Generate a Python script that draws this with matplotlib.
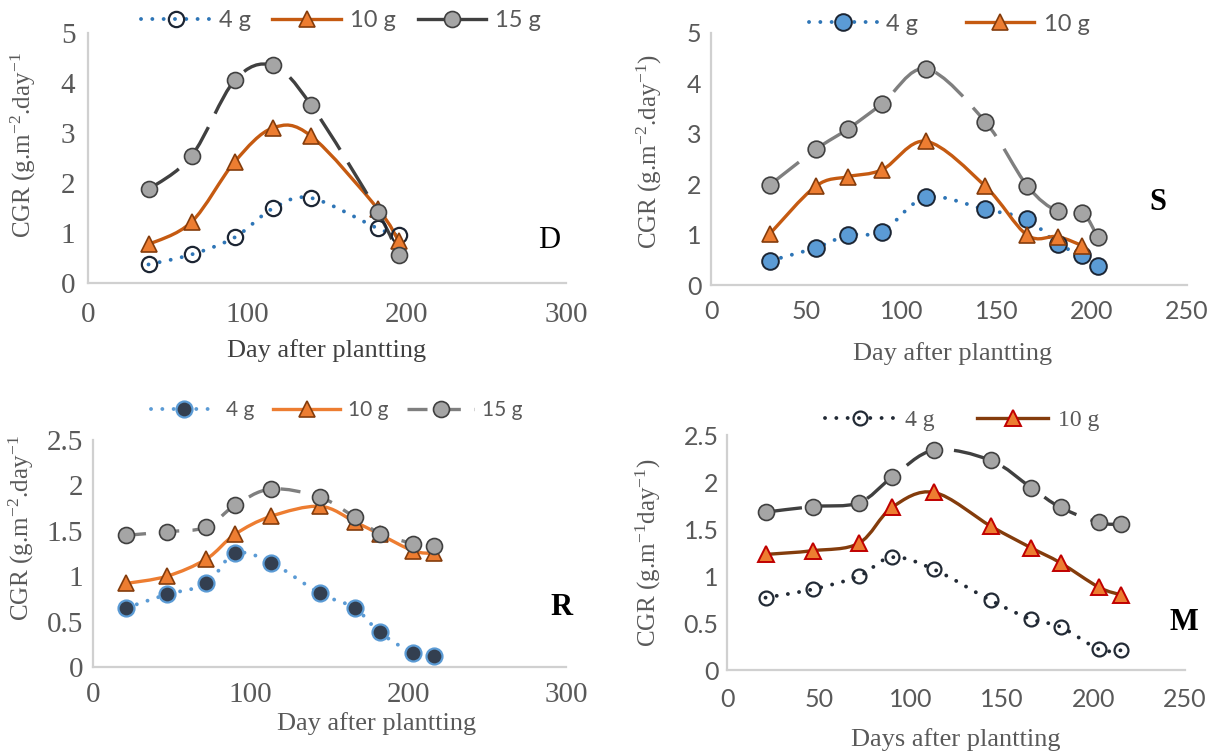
import matplotlib
matplotlib.use("Agg")
import matplotlib.pyplot as plt
import numpy as np
from matplotlib.path import Path
from matplotlib.patches import PathPatch
from matplotlib.lines import Line2D
from matplotlib.ticker import FuncFormatter, MultipleLocator

plt.rcParams['mathtext.fontset'] = 'custom'
plt.rcParams['mathtext.rm'] = 'Liberation Serif'
plt.rcParams['mathtext.it'] = 'Liberation Serif:italic'

# ---------------- data ----------------
D_days = [38, 65, 92, 116, 140, 182, 195]
D_4g = [0.37, 0.57, 0.91, 1.49, 1.70, 1.09, 0.95]
D_10g = [0.77, 1.22, 2.42, 3.10, 2.94, 1.48, 0.84]
D_15g = [1.87, 2.54, 4.05, 4.35, 3.56, 1.41, 0.55]

S_days = [31, 55, 72, 90, 113, 144, 166, 182, 195, 203]
S_4g = [0.48, 0.74, 0.99, 1.06, 1.74, 1.50, 1.30, 0.82, 0.59, 0.38]
S_days_10g = [31, 55, 72, 90, 113, 144, 166, 182, 195]
S_10g = [1.02, 1.96, 2.15, 2.29, 2.85, 1.96, 0.99, 0.96, 0.78]
S_15g = [1.99, 2.69, 3.10, 3.60, 4.29, 3.24, 1.97, 1.46, 1.43, 0.96]

R_days = [21, 47, 72, 90, 113, 144, 166, 182, 203, 216]
R_4g = [0.65, 0.80, 0.92, 1.25, 1.15, 0.81, 0.65, 0.38, 0.155, 0.12]
R_10g = [0.92, 1.00, 1.19, 1.46, 1.66, 1.77, 1.60, 1.46, 1.28, 1.25]
R_15g = [1.45, 1.49, 1.54, 1.78, 1.96, 1.87, 1.65, 1.47, 1.36, 1.33]

M_days = [21, 47, 72, 90, 113, 144, 166, 182, 203, 215]
M_4g = [0.77, 0.86, 1.00, 1.20, 1.07, 0.74, 0.54, 0.46, 0.22, 0.21]
M_10g = [1.23, 1.27, 1.35, 1.73, 1.89, 1.53, 1.30, 1.14, 0.88, 0.80]
M_15g = [1.68, 1.74, 1.78, 2.05, 2.34, 2.23, 1.94, 1.73, 1.57, 1.55]

labels = ['4 g', '10 g', '15 g']

# ---------------- helpers ----------------
SERIF = 'Liberation Serif'
SANS = 'Lato'
GRAY = '#595959'
DOT = (0, (0.01, 2.9))
LONGDASH = (0, (11, 4.5))
DASH = (0, (6, 4))


def smooth_path(x, y):
    pts = np.column_stack([x, y]).astype(float)
    n = len(pts)
    verts = [pts[0]]
    codes = [Path.MOVETO]
    for i in range(n - 1):
        p0 = pts[i - 1] if i > 0 else pts[i]
        p1 = pts[i]
        p2 = pts[i + 1]
        p3 = pts[i + 2] if i + 2 < n else pts[i + 1]
        verts += [p1 + (p2 - p0) / 6.0, p2 - (p3 - p1) / 6.0, p2]
        codes += [Path.CURVE4] * 3
    return Path(verts, codes)


def draw_series(ax, x, y, s, z):
    cap = 'round' if s['ls'] == DOT else 'butt'
    patch = PathPatch(smooth_path(x, y), fill=False, edgecolor=s['lc'],
                      linewidth=s['lw'], linestyle=s['ls'], capstyle=cap,
                      zorder=2 + z * 0.01)
    ax.add_patch(patch)
    ax.plot(x, y, linestyle='none', marker=s['m'], markersize=s['ms'],
            markerfacecolor=s['mf'], markeredgecolor=s['me'],
            markeredgewidth=s['mew'], zorder=3 + z * 0.01)
    return Line2D([], [], color=s['lc'], linewidth=s['lw'], linestyle=s['ls'],
                  dash_capstyle=cap, marker=s['m'], markersize=s['ms'],
                  markerfacecolor=s['mf'], markeredgecolor=s['me'],
                  markeredgewidth=s['mew'])


def style_axes(ax, xmax, xstep, ymax, ystep, tickfont, ticksize, xpad, ypad):
    ax.set_xlim(0, xmax)
    ax.set_ylim(0, ymax)
    ax.xaxis.set_major_locator(MultipleLocator(xstep))
    ax.yaxis.set_major_locator(MultipleLocator(ystep))
    fmt = FuncFormatter(lambda v, p: f'{v:g}')
    ax.xaxis.set_major_formatter(fmt)
    ax.yaxis.set_major_formatter(fmt)
    for sp in ['top', 'right']:
        ax.spines[sp].set_visible(False)
    for sp in ['left', 'bottom']:
        ax.spines[sp].set_color('#D0D0D0')
        ax.spines[sp].set_linewidth(1.6)
    ax.tick_params(length=0, labelsize=ticksize, labelcolor=GRAY)
    ax.tick_params(axis='x', pad=xpad)
    ax.tick_params(axis='y', pad=ypad)
    for lab in ax.get_xticklabels() + ax.get_yticklabels():
        lab.set_fontfamily(tickfont)
    ax.patch.set_alpha(0)


fig = plt.figure(figsize=(12.15, 7.53), dpi=100)

# ---------------- panel D ----------------
axD = fig.add_axes([0.0724, 0.6242, 0.3934, 0.332])
sD = [
    dict(lc='#2E75B6', lw=2.8, ls=DOT, m='o', ms=11, mf='none', me='#1C2533', mew=1.6),
    dict(lc='#C55A11', lw=2.4, ls='-', m='^', ms=11, mf='#ED7D31', me='#843C0C', mew=1.2),
    dict(lc='#404040', lw=2.4, ls=LONGDASH, m='o', ms=11.5, mf='#A5A5A5', me='#404040', mew=1.2),
]
hD = [draw_series(axD, D_days, yv, s, i) for i, (yv, s) in enumerate(zip([D_4g, D_10g, D_15g], sD))]
hD[2].set_linestyle('-')
style_axes(axD, 300, 100, 5, 1, SERIF, 21, 14, 9)
axD.set_ylabel('CGR (g.m$^{-2}$.day$^{-1}$', fontfamily=SERIF, fontsize=18, color=GRAY)
axD.yaxis.set_label_coords(-0.104, 0.55)
axD.set_xlabel('Day after plantting', fontfamily=SERIF, fontsize=19, color='#404040')
axD.xaxis.set_label_coords(0.5, -0.225)
axD.text(0.965, 0.168, 'D', transform=axD.transAxes, fontfamily=SERIF, fontsize=22,
         ha='center', va='center', color='black')
axD.legend(hD, labels, loc='center', bbox_to_anchor=(0.53, 1.05), ncol=3, frameon=False,
           prop={'family': SANS, 'size': 17}, labelcolor=GRAY, handlelength=2.9,
           handletextpad=0.4, columnspacing=0.9, borderaxespad=0)

# ---------------- panel S ----------------
axS = fig.add_axes([0.5852, 0.6215, 0.3918, 0.3347])
sS = [
    dict(lc='#2E75B6', lw=2.8, ls=DOT, m='o', ms=12, mf='#5B9BD5', me='#1C2533', mew=1.4),
    dict(lc='#C55A11', lw=2.4, ls='-', m='^', ms=11, mf='#ED7D31', me='#843C0C', mew=1.2),
    dict(lc='#7F7F7F', lw=2.4, ls=LONGDASH, m='o', ms=12, mf='#A5A5A5', me='#404040', mew=1.2),
]
hS = [draw_series(axS, S_days, S_4g, sS[0], 0),
      draw_series(axS, S_days_10g, S_10g, sS[1], 1),
      draw_series(axS, S_days, S_15g, sS[2], 2)]
style_axes(axS, 250, 50, 5, 1, SANS, 18, 11, 7)
axS.set_ylabel('CGR (g.m$^{-2}$.day$^{-1}$)', fontfamily=SERIF, fontsize=18, color=GRAY)
axS.yaxis.set_label_coords(-0.098, 0.53)
axS.set_xlabel('Day after plantting', fontfamily=SERIF, fontsize=19, color=GRAY)
axS.xaxis.set_label_coords(0.507, -0.225)
axS.text(0.938, 0.326, 'S', transform=axS.transAxes, fontfamily=SERIF, fontsize=22,
         fontweight='bold', ha='center', va='center', color='black')
axS.legend(hS[:2], labels[:2], loc='center', bbox_to_anchor=(0.50, 1.035), ncol=2, frameon=False,
           prop={'family': SANS, 'size': 17}, labelcolor=GRAY, handlelength=2.9,
           handletextpad=0.4, columnspacing=2.0, borderaxespad=0)

# ---------------- panel R ----------------
axR = fig.add_axes([0.0765, 0.1142, 0.3893, 0.3015])
sR = [
    dict(lc='#5B9BD5', lw=2.8, ls=DOT, m='o', ms=11.5, mf='#333F50', me='#5B9BD5', mew=1.6),
    dict(lc='#ED7D31', lw=2.4, ls='-', m='^', ms=11, mf='#ED7D31', me='#843C0C', mew=1.2),
    dict(lc='#7F7F7F', lw=2.4, ls=DASH, m='o', ms=11.5, mf='#A5A5A5', me='#404040', mew=1.2),
]
hR = [draw_series(axR, R_days, yv, s, i) for i, (yv, s) in enumerate(zip([R_4g, R_10g, R_15g], sR))]
style_axes(axR, 300, 100, 2.5, 0.5, SERIF, 21, 11, 7)
axR.set_ylabel('CGR (g.m$^{-2}$.day$^{-1}$', fontfamily=SERIF, fontsize=18, color=GRAY)
axR.yaxis.set_label_coords(-0.12, 0.61)
axR.set_xlabel('Day after plantting', fontfamily=SERIF, fontsize=19, color=GRAY)
axR.xaxis.set_label_coords(0.60, -0.20)
axR.text(0.99, 0.261, 'R', transform=axR.transAxes, fontfamily=SERIF, fontsize=22,
         fontweight='bold', ha='center', va='center', color='black')
axR.legend(hR, labels, loc='center', bbox_to_anchor=(0.516, 1.13), ncol=3, frameon=False,
           prop={'family': SANS, 'size': 15}, labelcolor=GRAY, handlelength=3.2,
           handletextpad=0.4, columnspacing=0.9, borderaxespad=0)

# ---------------- panel M ----------------
axM = fig.add_axes([0.5984, 0.1102, 0.377, 0.312])
sM = [
    dict(lc='#222A35', lw=2.8, ls=DOT, m='o', ms=10, mf='none', me='#222A35', mew=1.6),
    dict(lc='#843C0C', lw=2.4, ls='-', m='^', ms=12, mf='#ED7D31', me='#C00000', mew=1.4),
    dict(lc='#404040', lw=2.4, ls=LONGDASH, m='o', ms=11.5, mf='#A5A5A5', me='#404040', mew=1.2),
]
hM = [draw_series(axM, M_days, yv, s, i) for i, (yv, s) in enumerate(zip([M_4g, M_10g, M_15g], sM))]
style_axes(axM, 250, 50, 2.5, 0.5, SANS, 18, 13, 6)
axM.set_ylabel('CGR (g.m$^{-1}$day$^{-1}$)', fontfamily=SERIF, fontsize=18, color=GRAY)
axM.yaxis.set_label_coords(-0.14, 0.50)
axM.set_xlabel('Days after plantting', fontfamily=SERIF, fontsize=19, color=GRAY)
axM.xaxis.set_label_coords(0.50, -0.245)
axM.text(0.998, 0.202, 'M', transform=axM.transAxes, fontfamily=SERIF, fontsize=22,
         fontweight='bold', ha='center', va='center', color='black')
axM.legend(hM[:2], labels[:2], loc='center', bbox_to_anchor=(0.513, 1.064), ncol=2, frameon=False,
           prop={'family': SERIF, 'size': 17}, labelcolor=GRAY, handlelength=3.0,
           handletextpad=0.4, columnspacing=1.8, borderaxespad=0)

fig.savefig('out.png', dpi=100)
